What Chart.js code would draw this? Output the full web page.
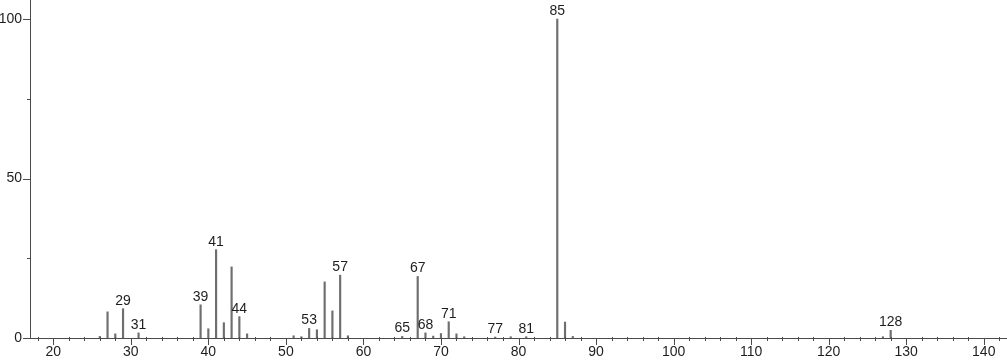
<!DOCTYPE html>
<html>
<head>
<meta charset="utf-8">
<script src="https://cdn.jsdelivr.net/npm/chart.js@4/dist/chart.umd.min.js"></script>
<style>
  html, body { margin: 0; padding: 0; background: #fff; }
  #wrap { width: 1007px; height: 362px; position: relative; }
</style>
</head>
<body>
<div id="wrap"><canvas id="spectrum"></canvas></div>
<script>
// m/z values and relative intensities
const masses = [26, 27, 28, 29, 31, 39, 40, 41, 42, 43, 44, 45, 51, 52, 53, 54, 55, 56, 57, 58,
  65, 67, 68, 69, 70, 71, 72, 73, 77, 79, 81, 85, 86, 87, 127, 128];
const intensities = [0.5, 8.2, 1.3, 9.2, 1.6, 10.4, 2.9, 27.7, 4.8, 22.3, 6.7, 1.3, 0.7, 0.4, 3.0, 2.6, 17.6, 8.5, 19.7, 0.7,
  0.5, 19.3, 1.6, 0.6, 1.4, 5.1, 1.3, 0.4, 0.3, 0.4, 0.4, 100, 5.0, 0.5, 0.4, 2.4];
const labelledPeaks = [29, 31, 39, 41, 44, 53, 57, 65, 67, 68, 71, 77, 81, 85, 128];

const xLabelTicks = [20, 30, 40, 50, 60, 70, 80, 90, 100, 110, 120, 130, 140];
const yLabelTicks = [0, 50, 100];
const yMinorTicks = [25, 75];

const FONT = "Liberation Sans, Arial, sans-serif";
const AXIS = "#4a4a4a";

// peak labels above the sticks
const peakLabels = {
  id: "peakLabels",
  afterDatasetsDraw(chart) {
    const { ctx, scales: { x, y } } = chart;
    ctx.save();
    ctx.font = "14px " + FONT;
    ctx.fillStyle = "#1e1e1e";
    ctx.textAlign = "center";
    ctx.textBaseline = "alphabetic";
    labelledPeaks.forEach((m) => {
      const i = masses.indexOf(m);
      if (i < 0) return;
      ctx.fillText(String(m), x.getPixelForValue(m), y.getPixelForValue(intensities[i]) - 4);
    });
    ctx.restore();
  },
};

// major / minor tick marks like the original plot
const tickMarks = {
  id: "tickMarks",
  afterDraw(chart) {
    const { ctx, scales: { x, y }, chartArea } = chart;
    const base = chartArea.bottom;
    const left = chartArea.left;
    ctx.save();
    ctx.strokeStyle = AXIS;
    ctx.lineWidth = 1;
    ctx.beginPath();
    for (let v = 18; v <= 142; v += 2) {
      const px = Math.round(x.getPixelForValue(v)) + 0.5;
      if (xLabelTicks.includes(v)) {
        ctx.moveTo(px, base);
        ctx.lineTo(px, base + 7);
      } else {
        ctx.moveTo(px, base - 1);
        ctx.lineTo(px, base + 3);
      }
    }
    yLabelTicks.forEach((v) => {
      const py = Math.round(y.getPixelForValue(v)) + 0.5;
      ctx.moveTo(left, py);
      ctx.lineTo(left - 7, py);
    });
    yMinorTicks.forEach((v) => {
      const py = Math.round(y.getPixelForValue(v)) + 0.5;
      ctx.moveTo(left, py);
      ctx.lineTo(left - 3, py);
    });
    ctx.stroke();
    ctx.restore();
  },
};

new Chart(document.getElementById("spectrum"), {
  type: "bar",
  data: {
    datasets: [
      {
        data: masses.map((m, i) => ({ x: m, y: intensities[i] })),
        backgroundColor: "#6e6e6e",
        borderWidth: 0,
        barThickness: 1.5,
      },
    ],
  },
  options: {
    responsive: true,
    maintainAspectRatio: false,
    animation: false,
    layout: { padding: 0 },
    plugins: { legend: { display: false }, tooltip: { enabled: false } },
    scales: {
      x: {
        type: "linear",
        min: 17,
        max: 143,
        offset: false,
        grid: { display: false, drawTicks: false },
        border: { display: true, color: AXIS, width: 1 },
        afterFit: (s) => {
          s.height = 24;
          s.paddingLeft = 0;
          s.paddingRight = 0;
        },
        afterBuildTicks: (s) => { s.ticks = xLabelTicks.map((v) => ({ value: v })); },
        ticks: {
          autoSkip: false,
          maxRotation: 0,
          padding: 6,
          color: "#1e1e1e",
          font: { family: FONT, size: 14 },
        },
      },
      y: {
        min: 0,
        max: 106,
        grid: { display: false, drawTicks: false },
        border: { display: true, color: AXIS, width: 1 },
        afterFit: (s) => {
          s.width = 30;
          s.paddingTop = 0;
          s.paddingBottom = 0;
        },
        afterBuildTicks: (s) => { s.ticks = yLabelTicks.map((v) => ({ value: v })); },
        ticks: {
          padding: 8,
          color: "#1e1e1e",
          font: { family: FONT, size: 14 },
        },
      },
    },
  },
  plugins: [peakLabels, tickMarks],
});
</script>
</body>
</html>
